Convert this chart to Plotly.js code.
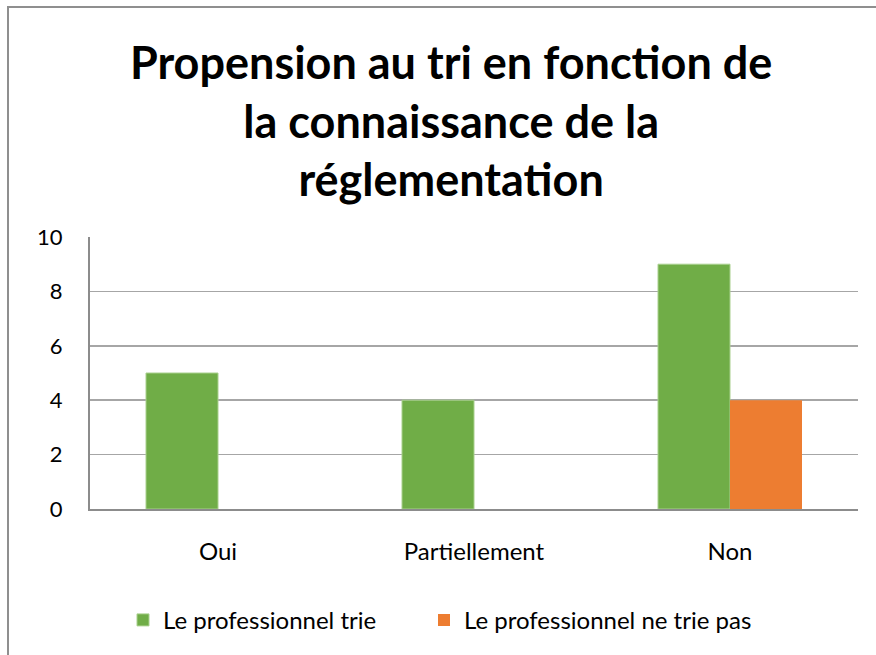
<!DOCTYPE html>
<html><head><meta charset="utf-8">
<script src="https://cdn.plot.ly/plotly-3.0.1.min.js"></script>
<style>html,body{margin:0;padding:0;background:#fff;}#chart{width:876px;height:655px;}</style>
</head><body><div id="chart"></div>
<script>
const categories = ['Oui', 'Partiellement', 'Non'];
const trieValues = [5, 4, 9];
const neTriePasValues = [0, 0, 4];
const seriesNames = ['Le professionnel trie', 'Le professionnel ne trie pas'];
const yTicks = [0, 2, 4, 6, 8, 10];

const W = 876, H = 655, L = 90, R = 18, T = 237, B = 146;
const pw = W - L - R, ph = H - T - B;
const px = v => (v - L) / pw;
const py = v => (H - B - v) / ph;

const font = "Lato, 'Open Sans', sans-serif";
const data = [
  {type: 'bar', x: categories, y: trieValues, name: seriesNames[0], legend: 'legend',
   marker: {color: '#70AD47', line: {color: '#A9D08E', width: 1}}},
  {type: 'bar', x: categories, y: neTriePasValues, name: seriesNames[1], legend: 'legend2',
   marker: {color: '#ED7D31'}}
];
const legendBase = {orientation: 'h', xref: 'container', xanchor: 'left',
  yref: 'container', y: 0.053, yanchor: 'middle', font: {size: 24, family: font},
  itemwidth: 30, bgcolor: 'rgba(0,0,0,0)'};
const layout = {
  width: W, height: H,
  margin: {l: L, r: R, t: T, b: B},
  paper_bgcolor: '#fff', plot_bgcolor: '#fff',
  barmode: 'group', bargap: 0.4375, bargroupgap: 0,
  font: {family: font, color: '#000', size: 24},
  title: {text: 'Propension au tri en fonction de<br>la connaissance de la<br>réglementation',
    font: {family: font, size: 45, color: '#000', weight: 'bold'},
    x: 0.515, xanchor: 'center', xref: 'container', y: 0.879, yanchor: 'top', yref: 'container'},
  xaxis: {type: 'category', showgrid: false, showline: true, linecolor: '#8c8c8c', linewidth: 2,
    ticks: '', tickfont: {size: 24, family: font}, ticklabelstandoff: 20, fixedrange: true},
  yaxis: {range: [0, 10], tickvals: yTicks, ticktext: yTicks.map(String),
    showgrid: true, gridcolor: '#a6a6a6', gridwidth: 1.5, zeroline: false,
    showline: true, linecolor: '#8c8c8c', linewidth: 2, ticks: '',
    tickfont: {size: 22, family: font}, ticklabelstandoff: 21},
  showlegend: true,
  legend: Object.assign({}, legendBase, {x: 123 / W}),
  legend2: Object.assign({}, legendBase, {x: 424 / W}),
  shapes: [{type: 'rect', xref: 'paper', yref: 'paper',
    x0: px(8), x1: px(890), y0: py(670), y1: py(7),
    line: {color: '#8f8f8f', width: 2}, fillcolor: 'rgba(0,0,0,0)', layer: 'below'}]
};
Plotly.newPlot('chart', data, layout, {displayModeBar: false, staticPlot: true});
</script></body></html>
